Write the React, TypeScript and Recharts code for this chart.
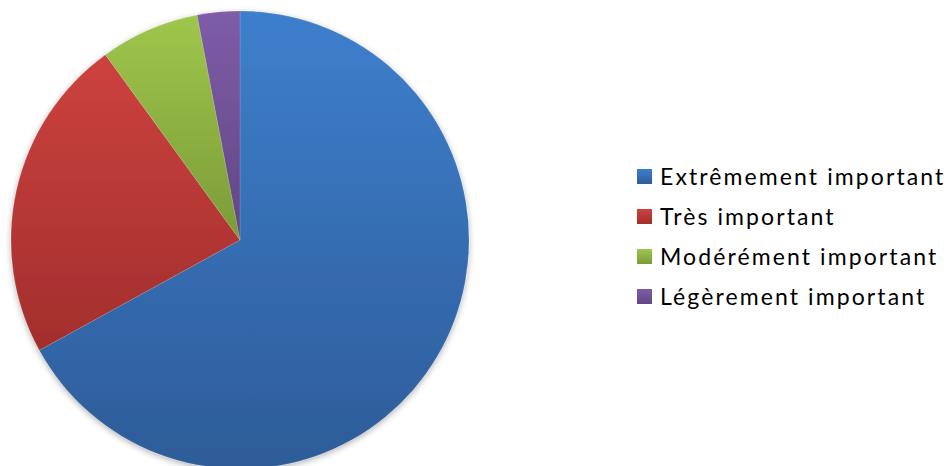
import { PieChart, Pie, Cell, Legend } from "recharts";

const categories = [
  "Extrêmement important",
  "Très important",
  "Modérément important",
  "Légèrement important",
];
const shares = [67, 23, 7, 3];

// top / bottom colours of each slice gradient
const topColors = ["#3e7fcd", "#cc423f", "#9fc64c", "#7e5ca8"];
const bottomColors = ["#2d5c98", "#a22e2c", "#7b9b37", "#624683"];

const data = categories.map((name, i) => ({ name, value: shares[i] }));

function LegendList() {
  return (
    <div style={{ fontFamily: "Lato, 'Open Sans', sans-serif", fontSize: 23, color: "#000" }}>
      {categories.map((name, i) => (
        <div key={name} style={{ display: "flex", alignItems: "center", height: 40 }}>
          <span
            style={{
              width: 15,
              height: 15,
              marginRight: 8,
              background: `linear-gradient(${topColors[i]}, ${bottomColors[i]})`,
            }}
          />
          <span style={{ letterSpacing: 2.1 }}>{name}</span>
        </div>
      ))}
    </div>
  );
}

export default function App() {
  return (
    <div style={{ position: "absolute", left: 0, top: 0, width: 951, height: 466, background: "#fff" }}>
      <style>{`.recharts-pie { filter: url(#pieShadow); }`}</style>
      <PieChart width={951} height={466} margin={{ top: 0, right: 0, bottom: 0, left: 0 }}>
        <defs>
          {topColors.map((c, i) => (
            <linearGradient key={c} id={`slice${i}`} x1="0" y1="0" x2="0" y2="1">
              <stop offset="0%" stopColor={c} />
              <stop offset="100%" stopColor={bottomColors[i]} />
            </linearGradient>
          ))}
          <filter id="pieShadow" x="-10%" y="-10%" width="120%" height="120%">
            <feDropShadow dx="0" dy="2" stdDeviation="3" floodColor="#000" floodOpacity="0.3" />
          </filter>
        </defs>
        <Pie
          data={data}
          dataKey="value"
          nameKey="name"
          cx={240}
          cy={240}
          outerRadius={229}
          startAngle={90}
          endAngle={-270}
          stroke="rgba(255,255,255,0.25)"
          strokeWidth={0.5}
          isAnimationActive={false}
        >
          {data.map((d, i) => (
            <Cell key={d.name} fill={`url(#slice${i})`} />
          ))}
        </Pie>
        <Legend
          layout="vertical"
          align="right"
          verticalAlign="top"
          content={() => <LegendList />}
          wrapperStyle={{ left: 637, top: 156, width: 320 }}
        />
      </PieChart>
    </div>
  );
}
